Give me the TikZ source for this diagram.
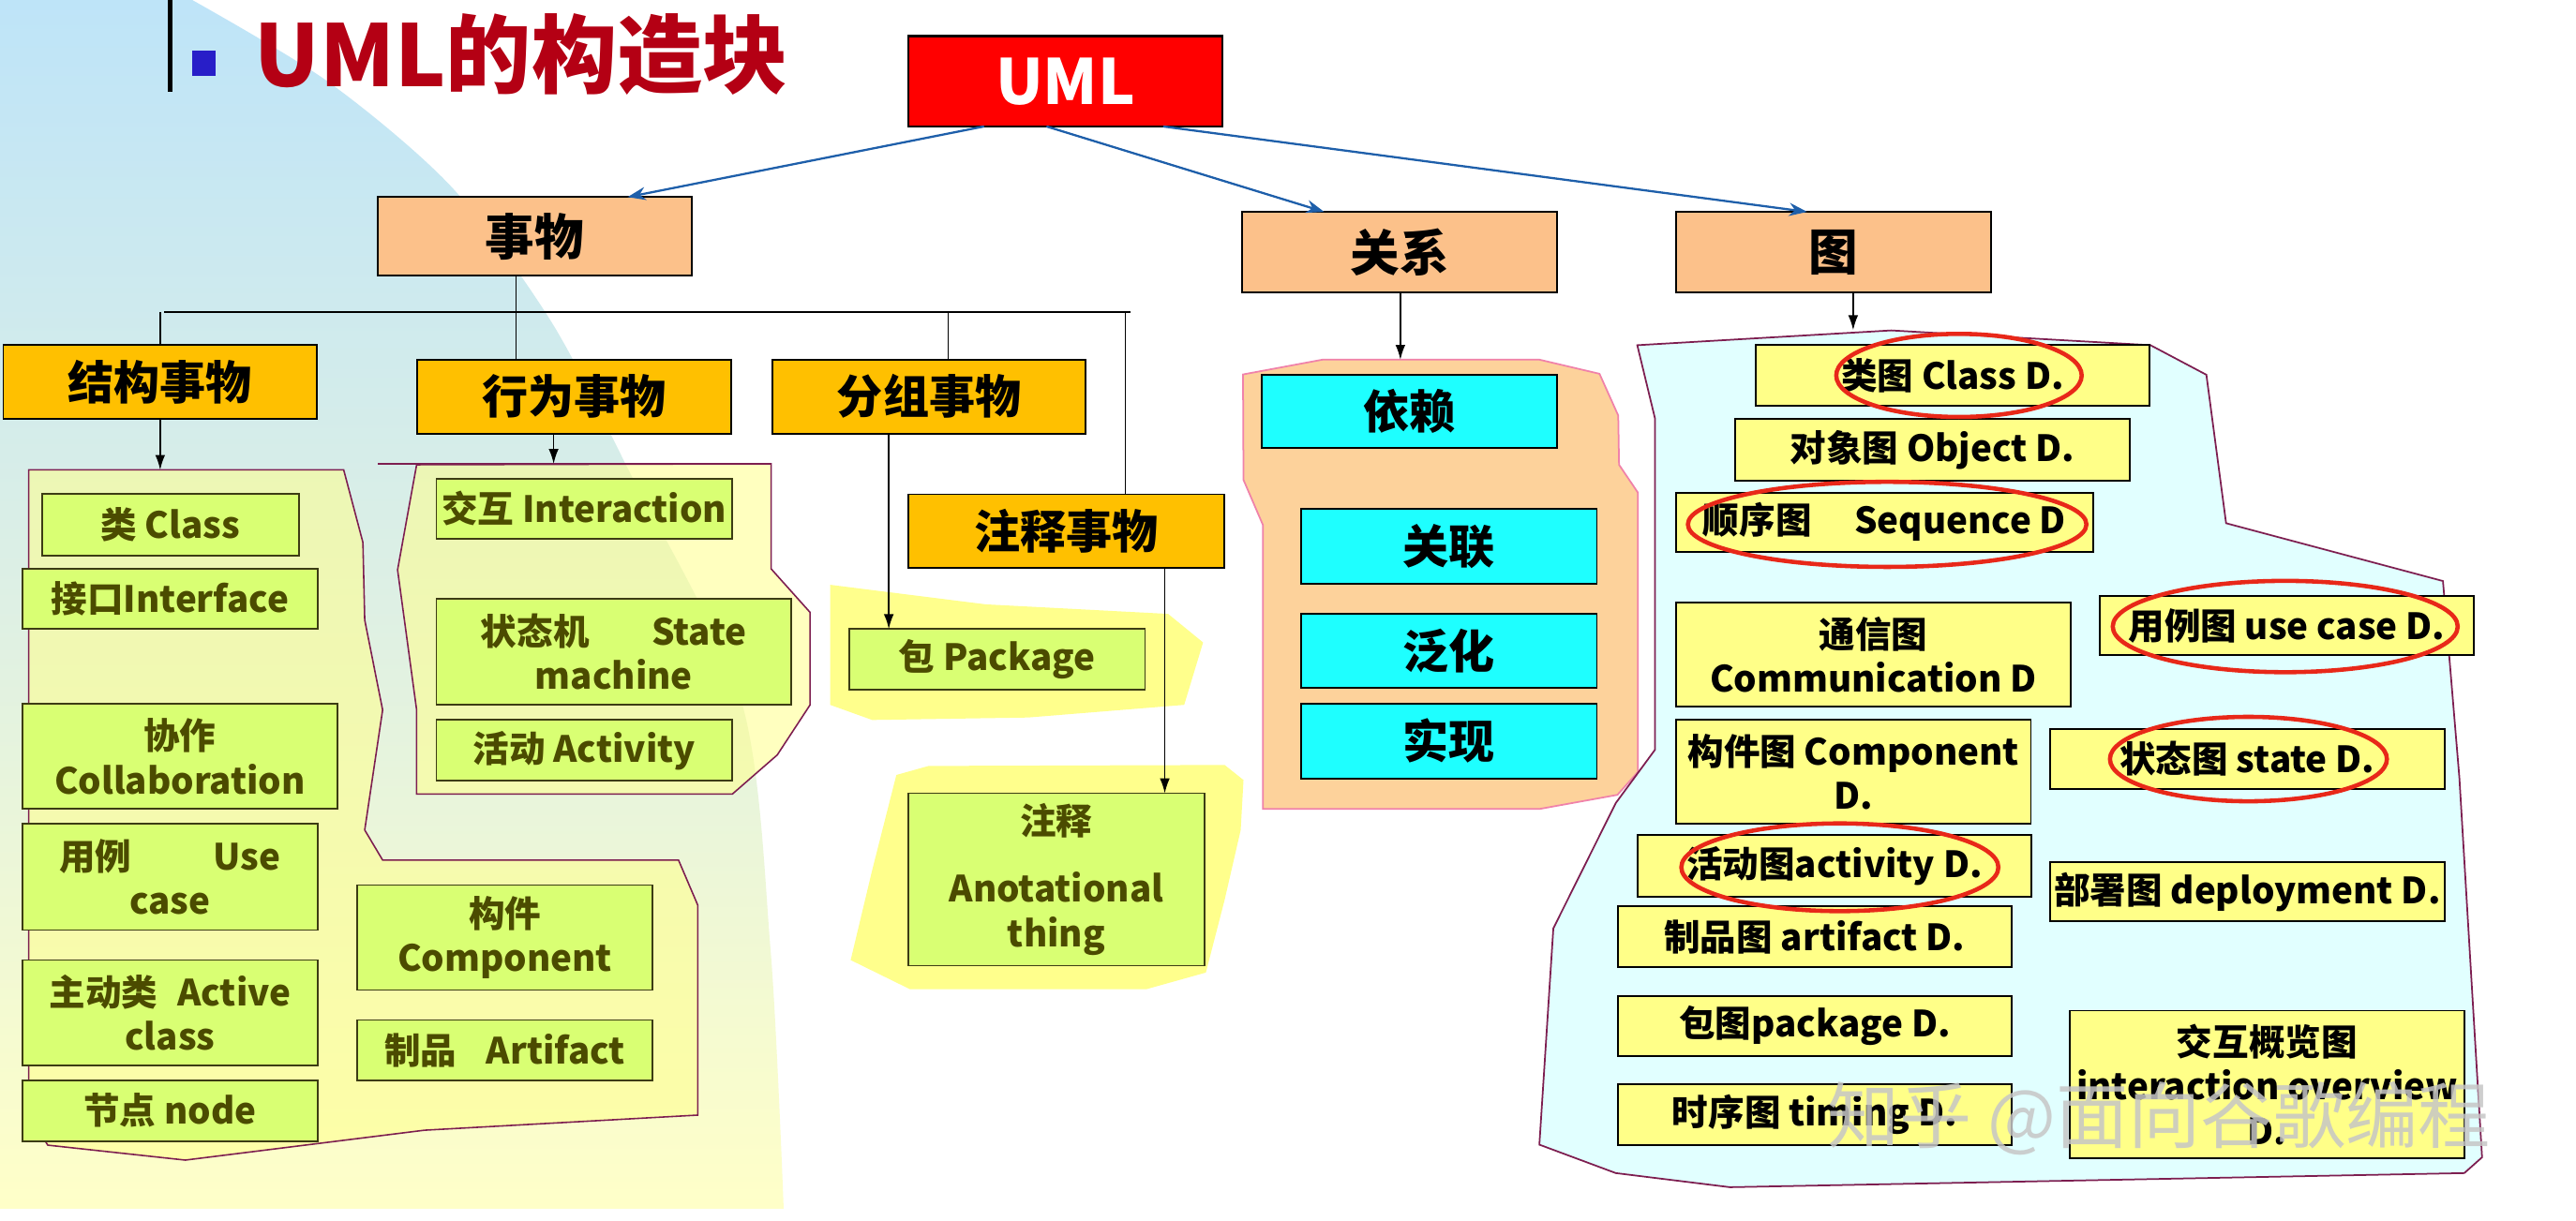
\documentclass[tikz,border=0pt]{standalone}
\usepackage{fontspec}
\setmainfont{Noto Sans CJK SC}
\usetikzlibrary{arrows.meta,calc}
\definecolor{peach}{RGB}{252,193,138}
\definecolor{orangebx}{RGB}{255,192,0}
\definecolor{greenbx}{RGB}{217,255,115}
\definecolor{greentxt}{RGB}{75,75,0}
\definecolor{greenbd}{RGB}{60,60,20}
\definecolor{cyanbx}{RGB}{30,255,255}
\definecolor{yellowbx}{RGB}{255,255,136}
\definecolor{regbd}{RGB}{125,30,80}
\definecolor{relfill}{RGB}{253,210,155}
\definecolor{relbd}{RGB}{240,130,170}
\definecolor{diagfill}{RGB}{225,255,255}
\definecolor{blob}{RGB}{255,255,140}
\definecolor{arrowblue}{RGB}{30,95,170}
\definecolor{ellred}{RGB}{232,40,25}
\definecolor{titlered}{RGB}{180,0,20}
\definecolor{sqblue}{RGB}{40,30,200}
\definecolor{bgtop}{RGB}{190,228,248}
\definecolor{bgmid}{RGB}{222,240,228}
\definecolor{bgbot}{RGB}{255,255,200}
\tikzset{
  bx/.style={anchor=north west, inner sep=0pt, outer sep=0pt, align=center},
  peachbox/.style={bx, fill=peach, draw=black, line width=1.1pt, font=\bfseries\fontsize{30}{34}\selectfont},
  orangebox/.style={bx, fill=orangebx, draw=black, line width=1.1pt, font=\bfseries\fontsize{28}{32}\selectfont},
  greenbox/.style={bx, fill=greenbx, draw=greenbd, line width=1pt, text=greentxt, font=\bfseries\fontsize{22}{27}\selectfont},
  cyanbox/.style={bx, fill=cyanbx, draw=black, line width=1.1pt, font=\bfseries\fontsize{28}{32}\selectfont},
  diagbox/.style={bx, fill=yellowbx, draw=black, line width=1.1pt, font=\bfseries\fontsize{22}{27}\selectfont},
  region/.style={fill=blob, fill opacity=0.55, draw=regbd, line width=0.9pt},
  treeline/.style={line width=0.8pt},
  arr/.style={line width=0.8pt, -{Latex[length=9pt,width=6pt]}},
  bluearr/.style={draw=arrowblue, line width=1.3pt, -{Stealth[length=11pt,width=8pt]}},
  ring/.style={draw=ellred, line width=2.6pt}
}
\begin{document}
\begin{tikzpicture}[x=1pt,y=-1pt]
\useasboundingbox (0,0) rectangle (1568,743);
\fill[white] (0,0) rectangle (1568,743);
% background
\shade[top color=bgtop, bottom color=bgbot, middle color=bgmid]
  (0,0) -- plot[smooth] coordinates {(117,0) (200,50) (275,114) (335,195) (382,285) (451,426) (469,578) (477,736)} -- (0,736) -- cycle;
% title
\fill[black] (102,0) rectangle (105,56);
\fill[sqblue] (117,31) rectangle (131,46);
\node[anchor=west, inner sep=0pt, text=titlered, font=\bfseries\fontsize{52}{60}\selectfont] (title) at (155,33) {UML的构造块};
% regions
\filldraw[region] (17.5,286.1) -- (209.2,286.1) -- (220.9,330.3) -- (222,377.5) -- (232.9,432.3) -- (222,505.4) -- (232.9,523.7) -- (413,523.7) -- (424.7,551.1) -- (424.7,679) -- (258.4,688.2) -- (112.8,706.4) -- (29.1,697.3) -- (17.5,679) -- cycle;
\filldraw[region] (253.6,283) -- (242,347) -- (253.6,432.3) -- (253.6,483.5) -- (445.8,483.5) -- (473.1,459.7) -- (493.1,429.2) -- (493.1,372.9) -- (469.4,346.4) -- (469.4,282.4) -- cycle;
\draw[draw=regbd, line width=0.9pt] (230,282.4) -- (469.4,282.4);
\fill[blob] (505.3,356.1) -- (600,368) -- (711,373.8) -- (732.3,391.2) -- (720.8,429.2) -- (625.8,436.9) -- (530.9,438.4) -- (505.3,429.2) -- cycle;
\fill[blob] (545.6,471.9) -- (565.2,466.4) -- (745.4,465.8) -- (756.9,475) -- (755.2,505.4) -- (745.4,548) -- (734,592.2) -- (697.9,602.3) -- (553.8,602.3) -- (517.8,584.6) -- (530.9,529.8) -- cycle;
\filldraw[fill=relfill, draw=relbd, line width=1pt] (756.6,228) -- (805,219) -- (937,219) -- (973.6,227.6) -- (985,253) -- (985.5,283) -- (997,300) -- (997,470) -- (984.5,484) -- (937,492.6) -- (768.7,492.6) -- (768.7,319.6) -- (756.9,292.2) -- cycle;
\filldraw[fill=diagfill, draw=regbd, line width=1pt] (996.6,210.2) -- (1151.2,201.2) -- (1309,210.2) -- (1343,228.2) -- (1355,318.6) -- (1487,353.8) -- (1497,473.6) -- (1510.8,704.7) -- (1500,714.3) -- (1053,722.9) -- (983.5,714.3) -- (937,697) -- (945.5,565.3) -- (983.5,489) -- (1007.4,456.5) -- (1007.4,254.9) -- cycle;
% top level
\node[bx, fill=red, draw=black, line width=1.2pt, text=white, font=\bfseries\fontsize{38}{44}\selectfont, minimum width=191pt, minimum height=55pt] (uml) at (553,22) {UML};
\node[peachbox, minimum width=191pt, minimum height=48pt] (things) at (230,120) {事物};
\node[peachbox, minimum width=192pt, minimum height=49pt] (rel) at (756,129) {关系};
\node[peachbox, minimum width=192pt, minimum height=49pt] (diag) at (1020,129) {图};
% level 2
\node[orangebox, minimum width=191pt, minimum height=45pt] (struct) at (2,210) {结构事物};
\node[orangebox, minimum width=191pt, minimum height=45pt] (behav) at (254,219) {行为事物};
\node[orangebox, minimum width=191pt, minimum height=45pt] (group) at (470,219) {分组事物};
\node[orangebox, minimum width=192pt, minimum height=45pt] (annot) at (553,301) {注释事物};
% green boxes
\node[greenbox, minimum width=156.5pt, minimum height=37.8pt] (cls) at (25.5,300.7) {类 Class};
\node[greenbox, minimum width=180pt, minimum height=36.6pt] (intf) at (13.5,346.4) {接口Interface};
\node[greenbox, minimum width=192pt, minimum height=64pt] (collab) at (13.5,428.6) {协作\\Collaboration};
\node[greenbox, minimum width=180pt, minimum height=64.6pt] (usecase) at (13.5,501.7) {用例\hspace{50pt}Use\\case};
\node[greenbox, minimum width=180pt, minimum height=64pt] (active) at (13.5,584.6) {主动类\hspace{12pt}Active\\class};
\node[greenbox, minimum width=180pt, minimum height=37.2pt] (nodeb) at (13.5,657.7) {节点 node};
\node[greenbox, minimum width=180pt, minimum height=64pt] (comp) at (217.3,538.9) {构件\\Component};
\node[greenbox, minimum width=180pt, minimum height=36.6pt] (artf) at (217.3,621.1) {制品\hspace{18pt}Artifact};
\node[greenbox, minimum width=180pt, minimum height=36.5pt] (inter) at (265.6,291.6) {交互 Interaction};
\node[greenbox, minimum width=216pt, minimum height=64.5pt] (statem) at (265.6,364.7) {状态机\hspace{38pt}State\\machine};
\node[greenbox, minimum width=180pt, minimum height=37pt] (activ) at (265.6,438.4) {活动 Activity};
\node[greenbox, minimum width=180pt, minimum height=37pt] (pkg) at (517,383) {包 Package};
\node[greenbox, minimum width=180pt, minimum height=105pt] (note) at (553,483) {注释\\[14pt]Anotational\\thing};
% cyan boxes
\node[cyanbox, minimum width=180pt, minimum height=45pt] (dep) at (768,228) {依赖};
\node[cyanbox, minimum width=180pt, minimum height=45.5pt] (assoc) at (792,310) {关联};
\node[cyanbox, minimum width=180pt, minimum height=45pt] (gen) at (792,374) {泛化};
\node[cyanbox, minimum width=180pt, minimum height=45.4pt] (real) at (792,428.6) {实现};
% diagram boxes
\node[diagbox, minimum width=240pt, minimum height=37pt] (cd) at (1068.5,210.2) {类图 Class D.};
\node[diagbox, minimum width=240pt, minimum height=37.3pt] (od) at (1056.2,255.2) {对象图 Object D.};
\node[diagbox, minimum width=254pt, minimum height=36pt] (sd) at (1020.2,300) {顺序图\hspace{26pt}Sequence D};
\node[diagbox, minimum width=240pt, minimum height=63.3pt] (comm) at (1020.2,367.1) {通信图\\Communication D};
\node[diagbox, minimum width=228pt, minimum height=36pt] (ucd) at (1277.9,362.9) {用例图 use case D.};
\node[diagbox, minimum width=216pt, minimum height=63pt] (compd) at (1020.2,438.4) {构件图 Component\\D.};
\node[diagbox, minimum width=240pt, minimum height=37pt] (std) at (1247.9,443.7) {状态图 state D.};
\node[diagbox, minimum width=240pt, minimum height=37.5pt] (actd) at (996.6,508.4) {活动图activity D.};
\node[diagbox, minimum width=240pt, minimum height=36.2pt] (depd) at (1247.9,524.9) {部署图 deployment D.};
\node[diagbox, minimum width=240pt, minimum height=36.8pt] (artd) at (984.6,552) {制品图 artifact D.};
\node[diagbox, minimum width=240pt, minimum height=36.7pt] (pkgd) at (984.6,606.4) {包图package D.};
\node[diagbox, minimum width=240pt, minimum height=37.3pt] (timd) at (984.6,660.2) {时序图 timing D.};
\node[diagbox, minimum width=240pt, minimum height=90pt] (iod) at (1259.9,615.4) {交互概览图\\interaction overview\\D.};
% connectors from UML
\draw[bluearr] ([xshift=46pt]uml.south west) -- ([xshift=152pt]things.north west);
\draw[bluearr] ([xshift=84pt]uml.south west) -- ([xshift=50pt]rel.north west);
\draw[bluearr] ([xshift=155pt]uml.south west) -- ([xshift=80pt]diag.north west);
% things tree
\coordinate (barL) at (100,190);
\coordinate (barR) at (688,190);
\draw[line width=1.6pt] (barL) -- (barR);
\draw[treeline] ([xshift=84pt]things.south west) -- ([xshift=60pt]behav.north west);
\draw[treeline] (barL -| struct.north) -- (struct.north);
\coordinate (gtop) at ([xshift=107pt]group.north west);
\draw[treeline] (barL -| gtop) -- (gtop);
\coordinate (atop) at ([xshift=132pt]annot.north west);
\draw[treeline] (barL -| atop) -- (atop);
\coordinate (sreg) at (97.5,286.1);
\draw[arr] (struct.south) -- (sreg);
\coordinate (breg) at (337,282.4);
\draw[arr] ([xshift=83pt]behav.south west) -- (breg);
\draw[arr] ([xshift=71pt]group.south west) -- ([xshift=24pt]pkg.north west);
\draw[arr] ([xshift=156pt]annot.south west) -- ([xshift=156pt]note.north west);
\coordinate (rreg) at (852.4,219);
\draw[arr] ([xshift=96.4pt]rel.south west) -- (rreg);
\coordinate (dreg) at (1128,201);
\draw[arr] ([xshift=108pt]diag.south west) -- (dreg);
% red rings
\draw[ring] (1192.4,228.6) ellipse [x radius=74.7, y radius=25.3];
\draw[ring] (1148.7,319.3) ellipse [x radius=121.3, y radius=25.9];
\draw[ring] (1391,381.5) ellipse [x radius=105, y radius=27.8];
\draw[ring] (1368.6,462.2) ellipse [x radius=84.3, y radius=25.7];
\draw[ring] (1119.9,528.1) ellipse [x radius=96.5, y radius=26.7];
% watermark
\node[inner sep=0pt, text=gray!45, text opacity=0.85, font=\fontsize{44}{50}\selectfont] (wm) at (1314,681) {知乎 @面向谷歌编程};
\end{tikzpicture}
\end{document}
